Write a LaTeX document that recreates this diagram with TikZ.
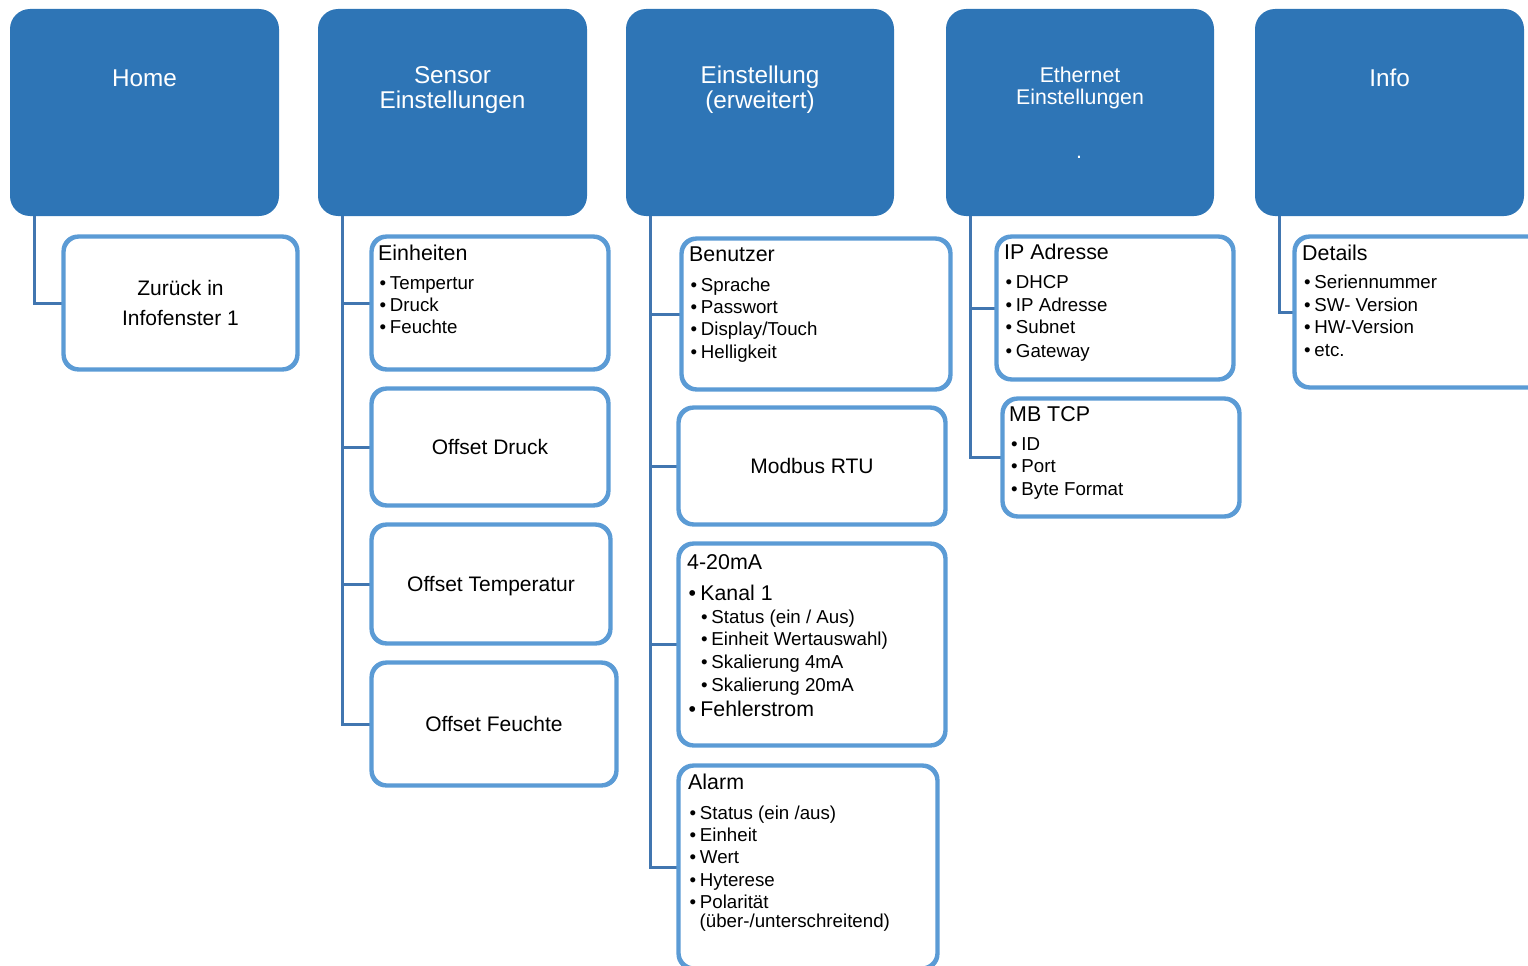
\documentclass[tikz,border=0pt]{standalone}
\usepackage{fontspec}
\setmainfont{Liberation Sans}
\definecolor{topblue}{HTML}{2E75B6}
\definecolor{subblue}{HTML}{5B9BD5}
\definecolor{connblue}{HTML}{4176B0}
\newcommand{\bul}{•\hspace{0.2em}}
\begin{document}
\begin{tikzpicture}[x=1pt,y=-1pt,
  top/.style={rectangle, rounded corners=20pt, fill=topblue, draw=none, inner sep=0pt},
  sub/.style={rectangle, rounded corners=15pt, draw=subblue, line width=2.8pt, fill=white, inner sep=0pt,
              font=\fontsize{21}{25}\selectfont, text height=15pt, text depth=0pt},
  conn/.style={draw=connblue, line width=3pt},
  toptxt/.style={anchor=base, text=white, inner sep=0pt, font=\fontsize{24.3}{28}\selectfont},
  toptxts/.style={anchor=base, text=white, inner sep=0pt, font=\fontsize{21.3}{25}\selectfont},
  ttl/.style={anchor=base west, inner sep=0pt, font=\fontsize{21.4}{25}\selectfont},
  ctr/.style={anchor=base, inner sep=0pt, font=\fontsize{21}{25}\selectfont},
  itm/.style={anchor=base west, inner sep=0pt, font=\fontsize{18.7}{22}\selectfont},
  big/.style={anchor=base west, inner sep=0pt, font=\fontsize{21.3}{25}\selectfont}]
\useasboundingbox (0,0) rectangle (1528,966);
\clip (0,0) rectangle (1528,966);

% top boxes
\node[top, minimum width=269pt, minimum height=207pt] (home) at (144.5,112.5) {};
\node[top, minimum width=269pt, minimum height=207pt] (sens) at (452.5,112.5) {};
\node[top, minimum width=268pt, minimum height=207pt] (einst) at (760,112.5) {};
\node[top, minimum width=268pt, minimum height=207pt] (eth) at (1080,112.5) {};
\node[top, minimum width=269pt, minimum height=207pt] (info) at (1389.5,112.5) {};

\node[toptxt] (homet) at (144.5,86) {Home};
\node[toptxt] (senst1) at (452.5,83) {Sensor};
\node[toptxt] (senst2) at (452.5,108) {Einstellungen};
\node[toptxt] (einstt1) at (760,83) {Einstellung};
\node[toptxt] (einstt2) at (760,108) {(erweitert)};
\node[toptxts] (etht1) at (1080,82) {Ethernet};
\node[toptxts] (etht2) at (1080,104) {Einstellungen};
\node[toptxts] (etht3) at (1079,158) {.};
\node[toptxt] (infot) at (1389.5,86) {Info};

% child boxes
\node[sub, minimum width=232.5pt, minimum height=131.5pt] (zur) at (180.5,303) {};
\node[sub, minimum width=235.5pt, minimum height=131.5pt] (einh) at (490,303) {};
\node[sub, minimum width=235.5pt, minimum height=115.5pt] (odr) at (490,447) {Offset Druck};
\node[sub, minimum width=237.5pt, minimum height=117.5pt] (otemp) at (491,584) {Offset Temperatur};
\node[sub, minimum width=243.5pt, minimum height=121.5pt] (ofeu) at (494,724) {Offset Feuchte};
\node[sub, minimum width=267.5pt, minimum height=149.5pt] (ben) at (816,314) {};
\node[sub, minimum width=265.5pt, minimum height=115.5pt] (mod) at (812,466) {Modbus RTU};
\node[sub, minimum width=265.5pt, minimum height=200.5pt] (ma) at (812,644.5) {};
\node[sub, minimum width=257.5pt, minimum height=201.5pt] (alarm) at (808,867) {};
\node[sub, minimum width=235.5pt, minimum height=141.5pt] (ip) at (1115,308) {};
\node[sub, minimum width=235.5pt, minimum height=116.5pt] (mbtcp) at (1121,457.5) {};
\node[sub, minimum width=249.5pt, minimum height=149.5pt] (det) at (1420,312) {};

% connectors
\draw[conn] ([xshift=25pt]home.south west) |- (zur.west);
\foreach \c in {einh,odr,otemp,ofeu} \draw[conn] ([xshift=25pt]sens.south west) |- (\c.west);
\foreach \c in {ben,mod,ma,alarm} \draw[conn] ([xshift=25pt]einst.south west) |- (\c.west);
\foreach \c in {ip,mbtcp} \draw[conn] ([xshift=25pt]eth.south west) |- (\c.west);
\draw[conn] ([xshift=25pt]info.south west) |- (det.west);

% redraw box borders on top of connectors
\foreach \c in {zur,einh,odr,otemp,ofeu,ben,mod,ma,alarm,ip,mbtcp,det}
  \draw[draw=subblue, line width=2.8pt, rounded corners=15pt] (\c.south west) rectangle (\c.north east);

% texts
\node[ctr] (zurt1) at (180.5,295) {Zurück in};
\node[ctr] (zurt2) at (180.5,325) {Infofenster 1};

\node[ttl] (einht) at (378,260) {Einheiten};
\foreach \t [count=\i from 0] in {Tempertur, Druck, Feuchte}
  \node[itm] (einh-\i) at (379.5,{289+22*\i}) {\bul\t};

\node[ttl] (bent) at (689,261) {Benutzer};
\foreach \t [count=\i from 0] in {Sprache, Passwort, Display/Touch, Helligkeit}
  \node[itm] (ben-\i) at (690.5,{291+22.4*\i}) {\bul\t};

\node[ttl] (mat) at (687,569) {4-20mA};
\node[big] (ma-k) at (688.5,600) {\bul Kanal 1};
\foreach \t [count=\i from 0] in {Status (ein / Aus), Einheit Wertauswahl), Skalierung 4mA, Skalierung 20mA}
  \node[itm] (ma-\i) at (701,{623+22.7*\i}) {\bul\t};
\node[big] (ma-f) at (688.5,716) {\bul Fehlerstrom};

\node[ttl] (alarmt) at (688,789) {Alarm};
\foreach \t [count=\i from 0] in {Status (ein /aus), Einheit, Wert, Hyterese, Polarität}
  \node[itm] (al-\i) at (689.5,{819+22.4*\i}) {\bul\t};
\node[itm] (al-5) at (699.5,927) {(über-/unterschreitend)};

\node[ttl] (ipt) at (1004,259) {IP Adresse};
\node[itm] (ip-0) at (1005.5,288.5) {\bul DHCP};
\node[itm] (ip-1) at (1005.5,311) {\bul IP Adresse};
\node[itm] (ip-2) at (1005.5,333.5) {\bul Subnet};
\node[itm] (ip-3) at (1005.5,357) {\bul Gateway};

\node[ttl] (mbt) at (1009,421) {MB TCP};
\foreach \t [count=\i from 0] in {ID, Port, Byte Format}
  \node[itm] (mb-\i) at (1011,{450+22.5*\i}) {\bul\t};

\node[ttl] (dett) at (1302,260.5) {Details};
\foreach \t [count=\i from 0] in {Seriennummer, SW- Version, HW-Version, etc.}
  \node[itm] (det-\i) at (1304,{288.5+22.5*\i}) {\bul\t};
\end{tikzpicture}
\end{document}
